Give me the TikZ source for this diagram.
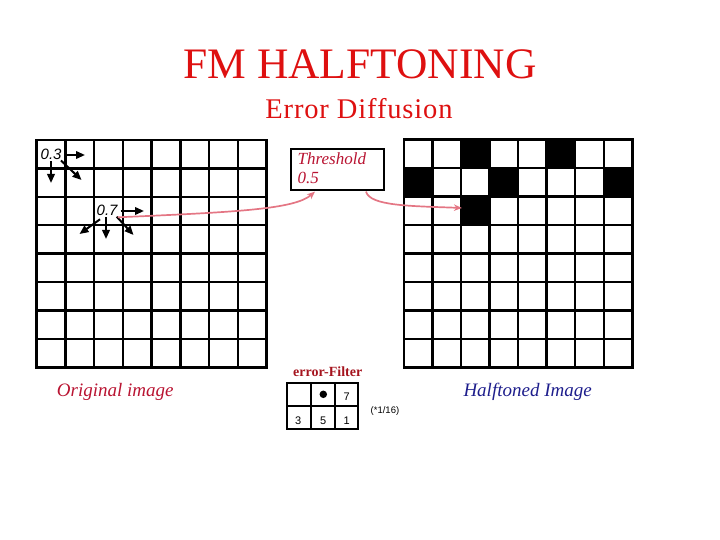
\documentclass[tikz,border=0pt]{standalone}
\usepackage{fontspec}
\setmainfont{Liberation Serif}
\setsansfont{Liberation Sans}
\usetikzlibrary{arrows.meta}
\definecolor{titlered}{RGB}{222,16,16}
\definecolor{crim}{RGB}{185,20,50}
\definecolor{navyb}{RGB}{30,30,140}
\definecolor{pinkarr}{RGB}{228,118,132}
\definecolor{filtred}{RGB}{165,20,30}
\tikzset{
  gridline/.style={line width=2.5pt, line cap=rect},
  blackcell/.style={fill=black, draw=none, minimum width=28.5pt, minimum height=28.5pt, inner sep=0pt},
  smallarrow/.style={line width=2pt, -{Triangle[length=9pt,width=7.5pt]}},
  pinkarrow/.style={pinkarr, line width=1.7pt, -{Stealth[length=8pt,width=6.5pt]}},
  vallabel/.style={inner sep=0pt, font=\sffamily\itshape\fontsize{15}{18}\selectfont},
  numlabel/.style={inner sep=0pt, font=\sffamily\fontsize{11}{13}\selectfont},
}
\begin{document}
\begin{tikzpicture}[x=1pt,y=-1pt]
\useasboundingbox (0,0) rectangle (720,540);

% titles
\node[anchor=base, inner sep=0pt, text=titlered, font=\fontsize{43.5}{50}\selectfont] (title) at (360,78.3) {FM HALFTONING};
\node[anchor=base, inner sep=0pt, text=titlered, font=\fontsize{28.5}{32}\selectfont\addfontfeatures{LetterSpace=3}] (subtitle) at (359,118.3) {Error Diffusion};

% left grid
\foreach \i in {0,...,8} {
  \draw[gridline] ({36.7+\i*28.75},140) -- ({36.7+\i*28.75},367.3);
  \draw[gridline] (36.7,{140+\i*28.41}) -- (266.7,{140+\i*28.41});
}

% right grid black cells
\node[blackcell] (b02) at ({404+2.5*28.54},{139.3+0.5*28.55}) {};
\node[blackcell] (b05) at ({404+5.5*28.54},{139.3+0.5*28.55}) {};
\node[blackcell] (b10) at ({404+0.5*28.54},{139.3+1.5*28.55}) {};
\node[blackcell] (b13) at ({404+3.5*28.54},{139.3+1.5*28.55}) {};
\node[blackcell] (b17) at ({404+7.5*28.54},{139.3+1.5*28.55}) {};
\node[blackcell] (b22) at ({404+2.5*28.54},{139.3+2.5*28.55}) {};

% right grid
\foreach \i in {0,...,8} {
  \draw[gridline] ({404+\i*28.54},139.3) -- ({404+\i*28.54},367.7);
  \draw[gridline] (404,{139.3+\i*28.55}) -- (632.3,{139.3+\i*28.55});
}

% values
\node[vallabel, anchor=base west] (l03) at (40.5,159.3) {0.3};
\node[vallabel, anchor=base west] (l07) at (96.5,215.7) {0.7};

% small arrows for 0.3
\coordinate (a1s) at (65,155);   \coordinate (a1e) at (85,155);
\coordinate (a2s) at (51,161.5); \coordinate (a2e) at (51,183);
\coordinate (a3s) at (61,160.5); \coordinate (a3e) at (81.5,180);
\draw[smallarrow] (a1s) -- (a1e);
\draw[smallarrow] (a2s) -- (a2e);
\draw[smallarrow] (a3s) -- (a3e);

% small arrows for 0.7
\coordinate (b1s) at (120.7,211);  \coordinate (b1e) at (144,211);
\coordinate (b2s) at (106,217.3);  \coordinate (b2e) at (106,239);
\coordinate (b3s) at (100,219.3);  \coordinate (b3e) at (79.5,234);
\coordinate (b4s) at (116.7,216.7);\coordinate (b4e) at (133.5,235);
\draw[smallarrow] (b1s) -- (b1e);
\draw[smallarrow] (b2s) -- (b2e);
\draw[smallarrow] (b3s) -- (b3e);
\draw[smallarrow] (b4s) -- (b4e);

% threshold box
\node[draw, line width=2.2pt, fill=white, minimum width=93.3pt, minimum height=41pt, inner sep=0pt] (thr) at (337.3,169.5) {};
\node[anchor=base west, inner sep=0pt, text=crim, font=\itshape\fontsize{17}{20}\selectfont] (thr1) at (297.5,165) {Threshold};
\node[anchor=base west, inner sep=0pt, text=crim, font=\itshape\fontsize{17}{20}\selectfont] (thr2) at (297.5,183.5) {0.5};

% pink connectors
\draw[pinkarrow] ([yshift=-1.6pt]l07.base east) .. controls (240,212) and (295,209) .. ([xshift=-22.3pt,yshift=-0.5pt]thr.south);
\draw[pinkarrow] ([xshift=28.7pt,yshift=-0.5pt]thr.south) .. controls (370,206) and (410,206) .. ([xshift=1pt,yshift=2.7pt]b22.west);

% captions
\node[anchor=base west, inner sep=0pt, text=crim, font=\itshape\fontsize{19}{22}\selectfont] (orig) at (56.7,396) {Original image};
\node[anchor=base west, inner sep=0pt, text=navyb, font=\itshape\fontsize{19}{22}\selectfont] (half) at (463.3,396) {Halftoned Image};

% error filter
\node[anchor=base, inner sep=0pt, text=filtred, font=\bfseries\fontsize{14}{16}\selectfont] (eftitle) at (327.7,376.7) {error-Filter};
\foreach \i in {0,...,3} {
  \draw[line width=1.8pt, line cap=rect] ({287.3+\i*23.67},382.7) -- ({287.3+\i*23.67},429);
}
\foreach \j in {0,...,2} {
  \draw[line width=1.8pt, line cap=rect] (287.3,{382.7+\j*23.15}) -- (358.3,{382.7+\j*23.15});
}
\node[circle, fill=black, minimum size=7.5pt, inner sep=0pt] (dot) at (323.3,394.3) {};
\node[numlabel] (n7) at (346.8,396.5) {7};
\node[numlabel] (n3) at (298.3,420.5) {3};
\node[numlabel] (n5) at (323.3,420.5) {5};
\node[numlabel] (n1) at (346.8,420.5) {1};
\node[anchor=west, inner sep=0pt, font=\sffamily\fontsize{9.5}{11}\selectfont] (scale) at (370.5,411.5) {(*1/16)};

\end{tikzpicture}
\end{document}
